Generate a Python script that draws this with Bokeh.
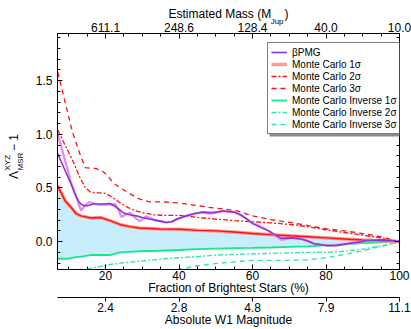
from bokeh.plotting import figure
from bokeh.models import (LinearAxis, Range1d, FixedTicker, SingleIntervalTicker, Legend,
                          LegendItem, BoxAnnotation, NumeralTickFormatter)
from bokeh.embed import file_html
from bokeh.resources import INLINE

FONT = "Liberation Sans"
NB = "\u00a0"

# ---------------- data ----------------
frac_ticks = [20, 40, 60, 80, 100]
mass_labels = ["611.1", "248.6", "128.4", "40.0", "10.0"]
mag_labels = ["2.4", "2.8", "4.8", "7.9", "11.1"]

mc1_x = [7, 9, 10.6, 12, 13.3, 16, 18.6, 21.2, 23.9, 26.5, 29.2, 34.6, 40, 45, 50, 55, 60, 65, 70, 75, 80, 85, 90, 95, 100]
mc1_y = [0.52, 0.38, 0.32, 0.26, 0.24, 0.22, 0.225, 0.196, 0.16, 0.14, 0.127, 0.118, 0.115, 0.105, 0.10, 0.09, 0.075, 0.065, 0.055, 0.045, 0.035, 0.025, 0.015, 0.008, 0.0]
inv1_y = [-0.16, -0.16, -0.155, -0.145, -0.14, -0.125, -0.125, -0.125, -0.10, -0.095, -0.09, -0.085, -0.078, -0.07, -0.065, -0.06, -0.058, -0.055, -0.05, -0.045, -0.035, -0.025, -0.015, -0.007, 0.0]

mc2_x = [7, 9, 11, 13, 14.5, 16, 18, 20, 22, 24, 26, 28, 30, 33, 36, 40, 45, 50, 55, 60, 65, 70, 75, 80, 85, 90, 95, 100]
mc2_y = [1.04, 0.90, 0.76, 0.60, 0.50, 0.46, 0.455, 0.45, 0.41, 0.36, 0.32, 0.29, 0.27, 0.25, 0.245, 0.245, 0.225, 0.21, 0.195, 0.185, 0.175, 0.16, 0.14, 0.11, 0.085, 0.06, 0.035, 0.0]

mc3_x = [7, 9, 11, 12, 13, 14.5, 16, 17.5, 19, 20.5, 22, 24, 26, 29, 32, 36, 40, 44, 48, 52, 56, 60, 65, 70, 75, 80, 85, 90, 95, 100]
mc3_y = [1.58, 1.30, 1.02, 0.92, 0.82, 0.69, 0.685, 0.68, 0.66, 0.62, 0.55, 0.50, 0.46, 0.40, 0.37, 0.37, 0.36, 0.34, 0.32, 0.305, 0.285, 0.24, 0.205, 0.18, 0.15, 0.12, 0.10, 0.075, 0.045, 0.0]

inv2_x = [7, 10, 13, 15, 18, 21, 24, 27, 30, 33, 36, 40, 45, 50, 55, 60, 65, 70, 75, 80, 85, 90, 95, 100]
inv2_y = [-0.40, -0.35, -0.29, -0.255, -0.235, -0.215, -0.20, -0.19, -0.18, -0.17, -0.16, -0.15, -0.14, -0.125, -0.12, -0.115, -0.11, -0.105, -0.10, -0.10, -0.09, -0.07, -0.04, 0.0]

inv3_x = [7, 15, 25, 35, 40, 45, 50, 55, 60, 65, 70, 75, 80, 85, 90, 95, 100]
inv3_y = [-0.60, -0.45, -0.36, -0.29, -0.26, -0.225, -0.205, -0.19, -0.175, -0.175, -0.175, -0.17, -0.15, -0.12, -0.085, -0.045, 0.0]

pmg_x = [7, 8, 9.3, 10.6, 12, 12.8, 13.3, 14.1, 15, 16.8, 19, 21.2, 23, 24.8, 26.5, 28.4, 30, 31.9, 33.5, 35.5, 36.5, 38, 39.5, 42, 44, 46.5, 49, 52, 55, 57, 58.5, 60, 62, 64.4, 66, 68, 70.6, 73.3, 75, 76.8, 80.4, 83, 86.6, 89, 91, 95.5, 98, 100]
pmg_y = [0.82, 0.74, 0.64, 0.54, 0.42, 0.37, 0.35, 0.335, 0.335, 0.35, 0.35, 0.355, 0.32, 0.27, 0.25, 0.24, 0.225, 0.21, 0.20, 0.186, 0.178, 0.185, 0.21, 0.24, 0.26, 0.275, 0.27, 0.285, 0.275, 0.245, 0.21, 0.17, 0.135, 0.10, 0.065, 0.03, 0.035, 0.025, 0.005, -0.02, -0.037, -0.035, -0.016, -0.005, 0.01, 0.016, 0.01, 0.0]

raw_x = [7, 9.3, 10.6, 12.2, 13.3, 14.3, 15.5, 16.8, 18.1, 20, 22.6, 23.5, 24.3, 25.5, 26.6, 28, 29.2, 30.1, 31, 32.2, 33.5, 35.5, 36.5, 38, 39.5, 42, 44, 46.5, 48, 49.5, 52, 55, 57, 58.5, 60, 61.7, 64.4, 66, 68, 70.6, 73.3, 75, 76.8, 80.4, 83, 86.6, 89, 91, 95.5, 98, 100]
raw_y = [1.00, 0.72, 0.55, 0.40, 0.29, 0.33, 0.37, 0.355, 0.345, 0.345, 0.35, 0.30, 0.23, 0.25, 0.27, 0.225, 0.19, 0.21, 0.235, 0.22, 0.20, 0.186, 0.178, 0.185, 0.21, 0.24, 0.26, 0.275, 0.26, 0.265, 0.285, 0.275, 0.245, 0.21, 0.17, 0.15, 0.10, 0.06, 0.015, 0.035, 0.025, 0.005, -0.02, -0.037, -0.035, -0.016, -0.005, 0.01, 0.016, 0.01, 0.0]

# ---------------- layout ----------------
W, H = 411, 329
BL, BR, BT, BB = 51, 12, 33, 60
FW = W - BL - BR
FH = H - BT - BB
X0, X1 = 6.93, 100.0
Y0, Y1 = -0.26, 1.94

p = figure(width=W, height=H, output_backend="svg", toolbar_location=None,
           x_range=Range1d(X0, X1), y_range=Range1d(Y0, Y1),
           min_border_left=BL, min_border_right=BR, min_border_top=BT, min_border_bottom=BB,
           x_axis_location=None, y_axis_location=None)
p.xgrid.visible = False
p.ygrid.visible = False
p.outline_line_color = "black"
p.outline_line_width = 1
p.background_fill_color = "white"
p.border_fill_color = "white"


def style_axis(ax, tick_in=5, tick_out=0, minor_in=3, minor_out=0, standoff=2):
    ax.axis_line_color = "black"
    ax.major_tick_line_color = "black"
    ax.minor_tick_line_color = "black"
    ax.major_tick_in = tick_in
    ax.major_tick_out = tick_out
    ax.minor_tick_in = minor_in
    ax.minor_tick_out = minor_out
    ax.major_label_standoff = standoff
    ax.major_label_text_font = FONT
    ax.major_label_text_font_size = "12px"
    ax.major_label_text_color = "black"
    ax.axis_label_text_font = FONT
    ax.axis_label_text_font_size = "12px"
    ax.axis_label_text_font_style = "normal"
    ax.axis_label_text_color = "black"


def text_axis(ax, standoff, label_standoff):
    # an axis used only to carry text (no line, no ticks)
    style_axis(ax, tick_in=0, tick_out=0, minor_in=0, minor_out=0, standoff=standoff)
    ax.axis_line_color = None
    ax.major_tick_line_color = None
    ax.minor_tick_line_color = None
    ax.major_label_text_font_size = "8px"
    ax.axis_label_standoff = label_standoff


# bottom: fraction
xa = LinearAxis(ticker=SingleIntervalTicker(interval=20, num_minor_ticks=4),
                axis_label="Fraction of Brightest Stars (%)")
style_axis(xa, standoff=1)
xa.axis_label_standoff = -2
p.add_layout(xa, "below")

# bottom: magnitude
ma = LinearAxis(ticker=FixedTicker(ticks=frac_ticks),
                major_label_overrides=dict(zip(frac_ticks, mag_labels)),
                axis_label="Absolute W1 Magnitude")
style_axis(ma, tick_in=0, tick_out=4, minor_in=0, minor_out=0, standoff=1)
ma.axis_label_standoff = -2
p.add_layout(ma, "below")

# top: mass
ta = LinearAxis(ticker=SingleIntervalTicker(interval=20, num_minor_ticks=4),
                major_label_overrides=dict(zip(frac_ticks, mass_labels)))
style_axis(ta, standoff=2)
p.add_layout(ta, "above")

# top title "Estimated Mass (M_Jup)": main text as axis label, subscript as a tick label
title_main = "Estimated Mass (M" + NB * 4 + ")"
px_per_x = FW / (X1 - X0)
title_w = 102.7 + 4 * 3.336 + 4.0          # Arial metrics at 12px
sub_center_px = FW / 2 - title_w / 2 + 102.7 + 0.3 + 6.45
x_sub = X0 + sub_center_px / px_per_x
jax = LinearAxis(ticker=FixedTicker(ticks=[x_sub]), major_label_overrides={x_sub: "Jup"},
                 axis_label=title_main)
text_axis(jax, standoff=-6, label_standoff=-7)
p.add_layout(jax, "above")

# left
ya = LinearAxis(ticker=SingleIntervalTicker(interval=0.5, num_minor_ticks=5),
                formatter=NumeralTickFormatter(format="0.0"))
style_axis(ya, standoff=5)
p.add_layout(ya, "left")

# left label "Λ^XYZ_MSR − 1": main text as axis label, scripts as tick labels
ylab_main = "Λ" + NB * 6 + "−" + NB + "1" + NB * 3
ylab_w = 8.0 + 6 * 3.336 + 7.0 + 3.336 + 6.67 + 3 * 3.336
px_per_y = FH / (Y1 - Y0)
start_px = FH / 2 - ylab_w / 2            # from frame bottom, text reads upward
y_sup = Y0 + (start_px + 8.5 + 7.8) / px_per_y
y_sub = Y0 + (start_px + 8.5 + 8.9) / px_per_y

yA = LinearAxis(ticker=FixedTicker(ticks=[y_sub]), major_label_overrides={y_sub: "MSR"},
                axis_label=ylab_main, major_label_orientation="parallel")
text_axis(yA, standoff=7, label_standoff=-7)
p.add_layout(yA, "left")

yB = LinearAxis(ticker=FixedTicker(ticks=[y_sup]), major_label_overrides={y_sup: "XYZ"},
                major_label_orientation="parallel")
text_axis(yB, standoff=-9, label_standoff=0)
p.add_layout(yB, "left")

# right (ticks only, no labels): minor ticks, then longer ticks at the major values
right_minor = [round(-0.2 + 0.1 * i, 1) for i in range(22)]
right_major = [0.0, 0.5, 1.0, 1.5]
ra = LinearAxis(ticker=FixedTicker(ticks=[], minor_ticks=right_minor))
style_axis(ra, tick_in=5, minor_in=3, standoff=0)
p.add_layout(ra, "right")
ra2 = LinearAxis(ticker=FixedTicker(ticks=[], minor_ticks=right_major))
style_axis(ra2, tick_in=5, minor_in=5, standoff=0)
ra2.axis_line_color = None
p.add_layout(ra2, "right")

# ---------------- glyphs ----------------
p.varea(x=mc1_x, y1=inv1_y, y2=mc1_y, fill_color="#c8eefb")

g_solid = "#14e88c"
g_light = "#33e6b0"
red = "#ff1010"

r_i3 = p.line(inv3_x, inv3_y, line_color=g_light, line_width=1.4, line_dash="5 4")
r_i2 = p.line(inv2_x, inv2_y, line_color=g_light, line_width=1.4, line_dash="5 2 2 2")
r_i1 = p.line(mc1_x, inv1_y, line_color=g_solid, line_width=1.8)
r_m3 = p.line(mc3_x, mc3_y, line_color=red, line_width=1.3, line_dash="5 4")
r_m2 = p.line(mc2_x, mc2_y, line_color=red, line_width=1.3, line_dash="5 2 2 2")
r_m1h = p.line(mc1_x, mc1_y, line_color="#ff9a9a", line_width=3.5)
r_m1 = p.line(mc1_x, mc1_y, line_color=red, line_width=1.4)
r_raw = p.line(raw_x, raw_y, line_color="#ec86ec", line_width=2.2)
r_pmg = p.line(pmg_x, pmg_y, line_color="#8a35dc", line_width=1.6)

# legend shadow + legend
LX, LTOP, LH, LW = 210, FH - 7, 94, 131
shadow = BoxAnnotation(left=LX + 2, right=LX + LW + 2, top=LTOP - 2, bottom=LTOP - LH - 2,
                       left_units="screen", right_units="screen", top_units="screen",
                       bottom_units="screen", fill_color="#8c8c8c", fill_alpha=1.0,
                       line_color=None)
p.add_layout(shadow)

legend = Legend(items=[
    LegendItem(label="βPMG", renderers=[r_pmg]),
    LegendItem(label="Monte Carlo 1σ", renderers=[r_m1h]),
    LegendItem(label="Monte Carlo 2σ", renderers=[r_m2]),
    LegendItem(label="Monte Carlo 3σ", renderers=[r_m3]),
    LegendItem(label="Monte Carlo Inverse 1σ", renderers=[r_i1]),
    LegendItem(label="Monte Carlo Inverse 2σ", renderers=[r_i2]),
    LegendItem(label="Monte Carlo Inverse 3σ", renderers=[r_i3]),
], location=(LX, LTOP - LH))
legend.label_text_font = FONT
legend.label_text_font_size = "10px"
legend.label_text_color = "black"
legend.glyph_width = 16
legend.glyph_height = 12
legend.label_height = 12
legend.label_standoff = 5
legend.padding = 3
legend.spacing = 0
legend.margin = 0
legend.border_line_color = "black"
legend.border_line_width = 1
legend.background_fill_color = "white"
legend.background_fill_alpha = 1.0
p.add_layout(legend)

open("out.html", "w").write(file_html(p, INLINE))
